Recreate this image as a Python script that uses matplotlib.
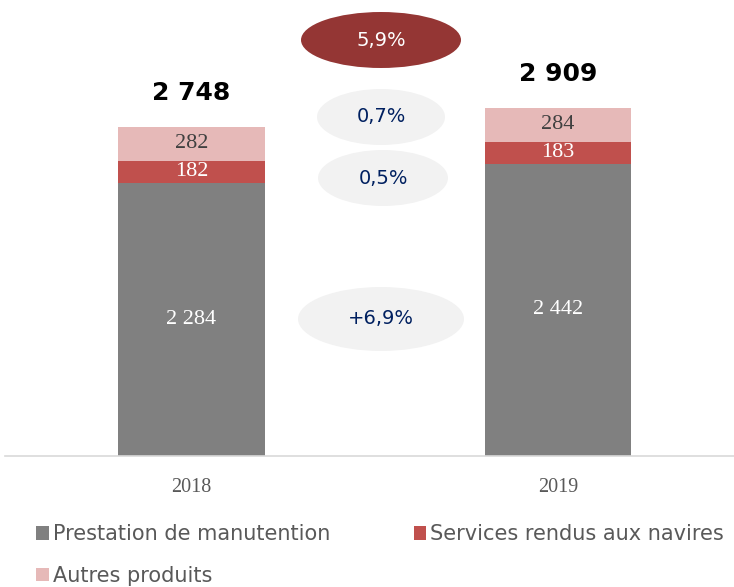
import matplotlib.pyplot as plt
from matplotlib.patches import Ellipse

years = ["2018", "2019"]
manutention = [2284, 2442]
services = [182, 183]
autres = [282, 284]
totals = ["2 748", "2 909"]
seg_labels = [["2 284", "2 442"], ["182", "183"], ["282", "284"]]
noms = ["Prestation de manutention", "Services rendus aux navires", "Autres produits"]
couleurs = ["#808080", "#C0504D", "#E6B9B8"]
# bulles de variation: texte, centre x/y (px), largeur, hauteur, fond, couleur texte
bulles = [("5,9%", 381, 40, 160, 56, "#943634", "white"),
          ("0,7%", 381, 117, 128, 56, "#F2F2F2", "#002060"),
          ("0,5%", 383, 178, 130, 56, "#F2F2F2", "#002060"),
          ("+6,9%", 381, 319, 166, 64, "#F2F2F2", "#002060")]

W, H = 734, 587
fig = plt.figure(figsize=(W / 100, H / 100), dpi=100)
ax = fig.add_axes([5 / W, 1 - 456 / H, 1 - 5 / W, 456 / H])

x = [0, 1]
bw = 0.40
series = [manutention, services, autres]
bottom = [0, 0]
bars = []
for i, vals in enumerate(series):
    b = ax.bar(x, vals, bw, bottom=bottom, color=couleurs[i], label=noms[i])
    bars.append(b)
    for j in range(2):
        tc = "#404040" if i == 2 else "white"
        ax.text(x[j], bottom[j] + vals[j] / 2, seg_labels[i][j], ha="center", va="center",
                fontsize=16, color=tc, family="Liberation Serif")
    bottom = [bottom[k] + vals[k] for k in range(2)]

for j in range(2):
    ax.text(x[j], bottom[j] + 185, totals[j], ha="center", va="bottom",
            fontsize=18, fontweight="bold", color="black")

ax.set_xlim(-0.509, 1.480)
ax.set_ylim(0, 3810)
ax.set_xticks([])
ax.set_yticks([])
for s in ["top", "right", "left"]:
    ax.spines[s].set_visible(False)
ax.spines["bottom"].set_color("#D9D9D9")
ax.spines["bottom"].set_linewidth(1.2)

for j in range(2):
    fig.text((191.5 + 366.5 * j) / W, 1 - 487 / H, years[j], ha="center", va="center",
             fontsize=14.5, color="#595959", family="Liberation Serif")

for txt, cx, cy, ew, eh, fc, tc in bulles:
    e = Ellipse((cx / W, 1 - cy / H), ew / W, eh / H, transform=fig.transFigure,
                facecolor=fc, edgecolor="none")
    fig.patches.append(e)
    fig.text(cx / W, 1 - cy / H, txt, ha="center", va="center", fontsize=14, color=tc)

handles = [bars[0], bars[2], bars[1]]
labels = [noms[0], noms[2], noms[1]]
leg = fig.legend(handles, labels, ncol=2, loc="upper left", bbox_to_anchor=(28 / W, 1 - 516 / H),
                 frameon=False, fontsize=15, handlelength=0.6, handleheight=0.6,
                 handletextpad=0.2, columnspacing=4.0, labelspacing=1.05, borderaxespad=0)
for t in leg.get_texts():
    t.set_color("#595959")

fig.savefig("out.png", dpi=100)
